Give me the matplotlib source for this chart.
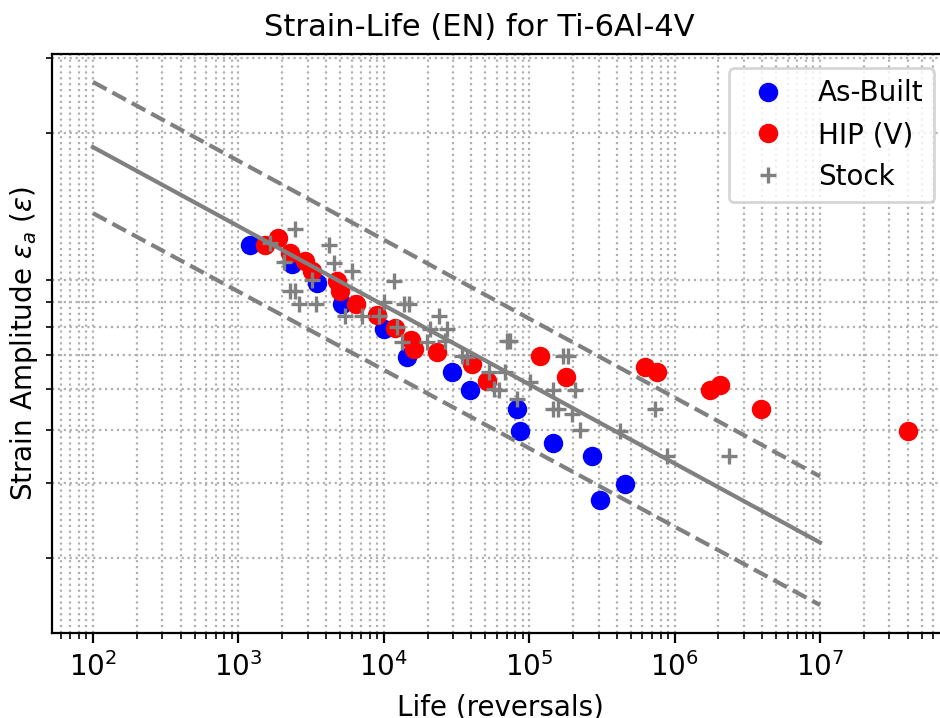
import matplotlib
matplotlib.use("Agg")
import matplotlib.pyplot as plt
from matplotlib.ticker import NullFormatter

# As-Built specimens (reversals, strain amplitude)
asbuilt_life = [1200, 2340, 3480, 5160, 9970, 14440, 29420, 39300,
                82300, 86700, 146900, 272300, 307600, 457000]
asbuilt_strain = [0.01090, 0.00985, 0.00889, 0.00791, 0.00692, 0.00595,
                  0.00547, 0.00497, 0.00448, 0.00397, 0.00373, 0.00347,
                  0.00273, 0.00299]

# HIP (V) specimens
hip_life = [1533, 1862, 2277, 2887, 3210, 4770, 5023, 6420, 8980, 12000,
            15450, 16020, 23210, 40390, 51200, 119000, 179600, 624000,
            754600, 1754000, 2055000, 3913000, 40060000]
hip_strain = [0.01090, 0.01134, 0.01045, 0.01000, 0.00947, 0.00897,
              0.00847, 0.00792, 0.00747, 0.00696, 0.00650, 0.00620,
              0.00609, 0.00572, 0.00522, 0.00598, 0.00534, 0.00562,
              0.00547, 0.00497, 0.00509, 0.00448, 0.00397]

# Stock material
stock_life = [2465, 1660, 4174, 4519, 2048, 3210, 2277, 2465, 2597, 3437,
              6046, 11680, 13680, 14800, 5438, 7085, 9211, 9970, 23800,
              20870, 27190, 12320, 13340, 19810, 26470, 34470, 37300,
              70260, 74040, 52510, 68420, 56830, 61520, 82330, 101600,
              146900, 207100, 146900, 159000, 196600, 224100, 422100,
              172100, 186300, 734500, 884000, 2380000]
stock_strain = [0.01187, 0.01104, 0.01090, 0.00990, 0.00994, 0.00901,
                0.00850, 0.00850, 0.00791, 0.00791, 0.00947, 0.00897,
                0.00791, 0.00791, 0.00743, 0.00743, 0.00743, 0.00798,
                0.00743, 0.00691, 0.00691, 0.00697, 0.00643, 0.00643,
                0.00649, 0.00598, 0.00593, 0.00646, 0.00646, 0.00547,
                0.00547, 0.00500, 0.00497, 0.00473, 0.00518, 0.00497,
                0.00497, 0.00448, 0.00448, 0.00437, 0.00399, 0.00397,
                0.00598, 0.00598, 0.00448, 0.00348, 0.00348]

# fitted curve and scatter band
fit_life = [1e2, 1e7]
fit_strain = [0.01851, 0.002174]
upper_strain = [0.02634, 0.00311]
lower_strain = [0.01294, 0.00155]

fig = plt.figure(figsize=(4.7, 3.59), dpi=200)
ax = fig.add_axes([0.0556, 0.1184, 0.9532, 0.8060])

ax.loglog(asbuilt_life, asbuilt_strain, 'o', color='blue', label='As-Built')
ax.loglog(hip_life, hip_strain, 'o', color='red', label='HIP (V)')
ax.loglog(stock_life, stock_strain, '+', color='gray', mew=1.2,
          label='Stock')

ax.plot(fit_life, fit_strain, '-', color='gray', lw=1.5)
ax.plot(fit_life, upper_strain, '--', color='gray', lw=1.5)
ax.plot(fit_life, lower_strain, '--', color='gray', lw=1.5)

ax.set_xlim(52.5, 7.62e7)
ax.set_ylim(1.332e-3, 3.06e-2)
ax.set_yticks([])
ax.yaxis.set_minor_formatter(NullFormatter())
ax.grid(True, which='both', ls=':')

ax.set_xlabel('Life (reversals)')
ax.set_ylabel(r'Strain Amplitude $\varepsilon_a$ ($\varepsilon$)',
              labelpad=-1)
ax.legend(loc='upper right')
fig.text(479 / 940, 1 - 36 / 718, 'Strain-Life (EN) for Ti-6Al-4V',
         ha='center', va='baseline', fontsize=11)

fig.savefig('out.png', dpi=200)
